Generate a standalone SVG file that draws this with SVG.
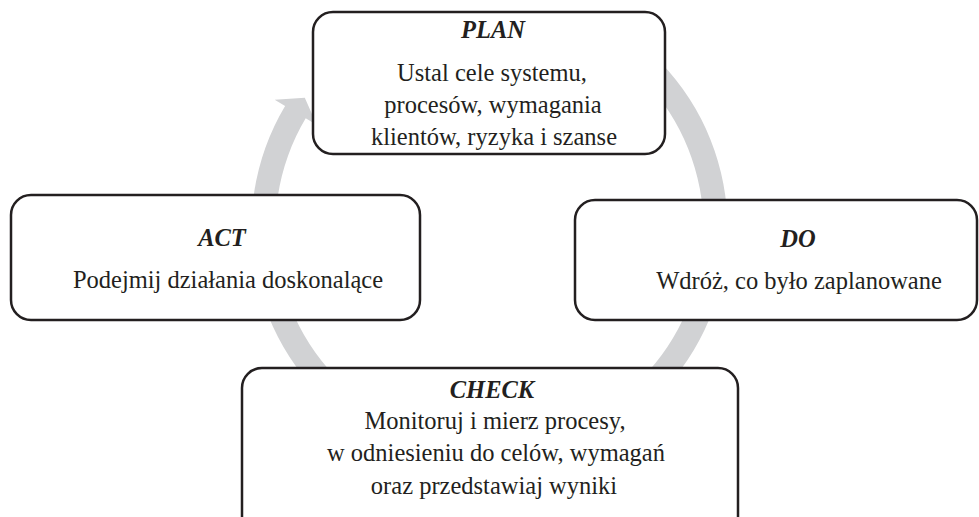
<svg xmlns="http://www.w3.org/2000/svg" width="979" height="517" viewBox="0 0 979 517">
<style>
.box{fill:#fff;stroke:#231f20;stroke-width:2.5}
.t{font-family:"Liberation Serif","Times New Roman",serif;font-size:24.5px;fill:#231f20;text-anchor:middle}
.h{font-weight:bold;font-style:italic}
</style>
<rect width="979" height="517" fill="#fff"/>
<g id="connectors">
<path d="M626.0,33.0 A238,238 0 1 1 285.1,106.0 L274.7,99.8 L304.8,97.7 L316.8,124.9 L305.7,118.3 A214,214 0 1 0 612.2,52.7 Z" fill="#d1d2d4"/>
</g>
<g id="plan">
<rect class="box" x="313" y="12" width="352" height="142" rx="20"/>
<text class="t h" x="493" y="38">PLAN</text>
<text class="t" x="492" y="81">Ustal cele systemu,</text>
<text class="t" x="493" y="113">procesów, wymagania</text>
<text class="t" x="494" y="145">klientów, ryzyka i szanse</text>
</g>
<g id="do">
<rect class="box" x="575" y="200" width="402" height="120" rx="20"/>
<text class="t h" x="798" y="247">DO</text>
<text class="t" x="799" y="289">Wdróż, co było zaplanowane</text>
</g>
<g id="act">
<rect class="box" x="11" y="195" width="409" height="125" rx="20"/>
<text class="t h" x="222" y="246">ACT</text>
<text class="t" x="228" y="288">Podejmij działania doskonalące</text>
</g>
<g id="check">
<rect class="box" x="242" y="368" width="496" height="172" rx="20"/>
<text class="t h" x="492" y="398">CHECK</text>
<text class="t" x="495" y="429">Monitoruj i mierz procesy,</text>
<text class="t" x="496" y="461">w odniesieniu do celów, wymagań</text>
<text class="t" x="494" y="494">oraz przedstawiaj wyniki</text>
</g>
</svg>
